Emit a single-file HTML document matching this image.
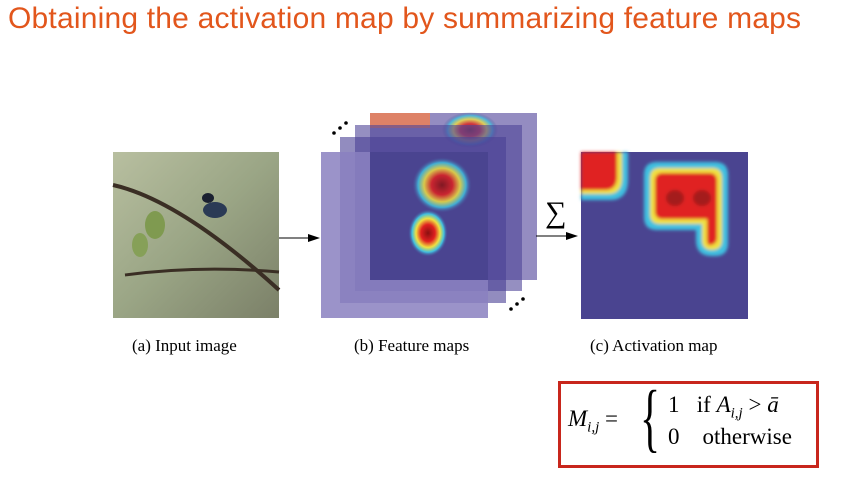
<!DOCTYPE html>
<html><head><meta charset="utf-8"><style>
body{margin:0;width:849px;height:488px;background:#fff;overflow:hidden;position:relative;font-family:"Liberation Serif",serif}
.t{position:absolute;white-space:nowrap}
</style></head><body>
<div class="t" style="left:8px;top:2px;font-family:'Liberation Sans',sans-serif;font-size:30px;letter-spacing:0.2px;color:#e2561c">Obtaining the activation map by summarizing feature maps</div>
<svg class="t" style="left:0;top:0" width="849" height="488">
<defs>
<radialGradient id="hot"><stop offset="0" stop-color="#8a1010"/><stop offset=".35" stop-color="#e02020"/><stop offset=".6" stop-color="#f0e040"/><stop offset=".8" stop-color="#40c0e0"/><stop offset="1" stop-color="#4a4490" stop-opacity="0"/></radialGradient>
<linearGradient id="bg" x1="0" y1="0" x2="1" y2="1"><stop offset="0" stop-color="#b8bfa0"/><stop offset=".5" stop-color="#9aa585"/><stop offset="1" stop-color="#7b8068"/></linearGradient>
<filter id="bl"><feGaussianBlur stdDeviation="1.5"/></filter>
</defs>
<g>
<rect x="113" y="152" width="166" height="166" fill="url(#bg)"/>
<path d="M113 185 Q180 200 279 290" stroke="#3a2e24" stroke-width="4" fill="none"/>
<path d="M125 275 Q200 265 279 272" stroke="#3a2e24" stroke-width="3" fill="none"/>
<ellipse cx="155" cy="225" rx="10" ry="14" fill="#7f9a50"/><ellipse cx="140" cy="245" rx="8" ry="12" fill="#86a058"/>
<ellipse cx="215" cy="210" rx="12" ry="8" fill="#2a3a55"/><ellipse cx="208" cy="198" rx="6" ry="5" fill="#1a2030"/>
</g>
<line x1="279" y1="238" x2="312" y2="238" stroke="#000"/><polygon points="320,238 308,234 308,242" fill="#000"/>
<g>
<rect x="370" y="113" width="167" height="167" fill="#5a4fa0" opacity=".65"/>
<rect x="370" y="113" width="60" height="15" fill="#f08050" opacity=".8"/>
<ellipse cx="470" cy="130" rx="28" ry="18" fill="url(#hot)" opacity=".8"/>
<rect x="355" y="125" width="167" height="166" fill="#4e4498" opacity=".6"/>
<rect x="340" y="137" width="166" height="166" fill="#4a4094" opacity=".6"/>
<rect x="321" y="152" width="167" height="166" fill="#8a80c0" opacity=".85"/>
<rect x="370" y="152" width="118" height="128" fill="#4a4490"/>
<ellipse cx="442" cy="185" rx="30" ry="28" fill="url(#hot)" opacity=".85"/>
<ellipse cx="428" cy="233" rx="20" ry="24" fill="url(#hot)"/>
<circle cx="334" cy="133" r="1.8"/><circle cx="340" cy="128" r="1.8"/><circle cx="346" cy="123" r="1.8"/>
<circle cx="511" cy="309" r="1.8"/><circle cx="517" cy="304" r="1.8"/><circle cx="523" cy="299" r="1.8"/>
</g>
<text x="545" y="222" font-size="30" font-family="Liberation Serif,serif">∑</text>
<line x1="536" y1="236" x2="570" y2="236" stroke="#000"/><polygon points="578,236 566,232 566,240" fill="#000"/>
<g>
<rect x="581" y="152" width="167" height="167" fill="#4a4490"/>
<g filter="url(#bl)">
<path d="M581 152 H628 V180 Q628 200 610 200 H581 Z" fill="#40c0e0"/>
<path d="M581 152 H622 V178 Q622 194 608 194 H581 Z" fill="#f0e040"/>
<path d="M581 152 H617 V176 Q617 190 605 190 H581 Z" fill="#e02020"/>
<path d="M644 175 Q644 162 657 162 H715 Q728 162 728 175 V243 Q728 256 715 256 H712 Q696 256 696 240 V230 H657 Q644 230 644 217 Z" fill="#40c0e0"/>
<path d="M650 178 Q650 168 660 168 H712 Q722 168 722 178 V240 Q722 250 712 250 Q702 250 702 240 V224 H660 Q650 224 650 214 Z" fill="#f0e040"/>
<path d="M655 181 Q655 173 663 173 H709 Q717 173 717 181 V237 Q717 245 709 245 Q707 245 707 237 V219 H663 Q655 219 655 211 Z" fill="#e02020"/>
<ellipse cx="675" cy="198" rx="9" ry="8" fill="#8a1818" opacity=".7"/><ellipse cx="702" cy="198" rx="9" ry="8" fill="#8a1818" opacity=".7"/>
</g>
</g>
</svg>
<div class="t" style="left:132px;top:336px;font-size:17px">(a) Input image</div>
<div class="t" style="left:354px;top:336px;font-size:17px">(b) Feature maps</div>
<div class="t" style="left:590px;top:336px;font-size:17px">(c) Activation map</div>
<div class="t" style="left:558px;top:381px;width:255px;height:81px;border:3px solid #c8261c"></div>
<div class="t" style="left:568px;top:406px;font-size:23px"><i>M</i><sub style="font-size:15px"><i>i,j</i></sub> =</div>
<div class="t" style="left:640px;top:380px;font-size:76px;line-height:76px;transform:scaleX(.55);transform-origin:left">{</div>
<div class="t" style="left:668px;top:392px;font-size:23px">1&nbsp;&nbsp;&nbsp;if <i>A</i><sub style="font-size:15px"><i>i,j</i></sub> &gt; <i>ā</i></div>
<div class="t" style="left:668px;top:424px;font-size:23px">0&nbsp;&nbsp;&nbsp;&nbsp;otherwise</div>
</body></html>
